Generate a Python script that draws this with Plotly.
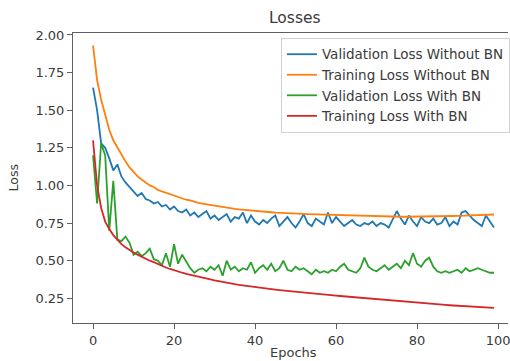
import plotly.graph_objects as go

epochs = list(range(100))

val_no_bn = [1.65, 1.50, 1.28, 1.25, 1.18, 1.10, 1.14, 1.06, 1.02, 0.99,
             0.96, 0.93, 0.95, 0.91, 0.90, 0.88, 0.89, 0.86, 0.87, 0.84,
             0.86, 0.83, 0.82, 0.84, 0.80, 0.82, 0.79, 0.81, 0.83, 0.78,
             0.80, 0.77, 0.79, 0.81, 0.76, 0.79, 0.78, 0.82, 0.75, 0.80,
             0.76, 0.74, 0.77, 0.75, 0.78, 0.80, 0.73, 0.76, 0.79, 0.75,
             0.72, 0.76, 0.81, 0.75, 0.73, 0.78, 0.76, 0.74, 0.82, 0.75,
             0.79, 0.76, 0.73, 0.75, 0.77, 0.74, 0.73, 0.75, 0.74, 0.76,
             0.73, 0.75, 0.74, 0.72, 0.77, 0.83, 0.78, 0.74, 0.80, 0.76,
             0.73, 0.79, 0.76, 0.75, 0.78, 0.74, 0.75, 0.79, 0.73, 0.76,
             0.74, 0.82, 0.83, 0.80, 0.77, 0.75, 0.73, 0.80, 0.76, 0.72]

train_no_bn = [1.93, 1.70, 1.57, 1.46, 1.37, 1.30, 1.25, 1.20, 1.16, 1.12,
               1.09, 1.06, 1.04, 1.02, 1.00, 0.99, 0.97, 0.96, 0.95, 0.94,
               0.93, 0.92, 0.91, 0.905, 0.90, 0.89, 0.885, 0.88, 0.875, 0.87,
               0.865, 0.86, 0.855, 0.85, 0.847, 0.844, 0.841, 0.838, 0.835, 0.832,
               0.83, 0.828, 0.826, 0.824, 0.822, 0.82, 0.818, 0.816, 0.815, 0.814,
               0.813, 0.812, 0.811, 0.81, 0.809, 0.808, 0.807, 0.806, 0.805, 0.804,
               0.803, 0.802, 0.801, 0.80, 0.80, 0.799, 0.798, 0.797, 0.796, 0.795,
               0.795, 0.794, 0.794, 0.793, 0.793, 0.793, 0.792, 0.792, 0.792, 0.792,
               0.792, 0.792, 0.793, 0.793, 0.794, 0.794, 0.795, 0.795, 0.796, 0.797,
               0.798, 0.799, 0.80, 0.801, 0.802, 0.803, 0.804, 0.805, 0.806, 0.807]

val_bn = [1.20, 0.88, 1.28, 1.20, 0.70, 1.03, 0.64, 0.63, 0.66, 0.62,
          0.54, 0.56, 0.53, 0.55, 0.58, 0.51, 0.50, 0.47, 0.55, 0.46,
          0.61, 0.48, 0.54, 0.49, 0.45, 0.42, 0.44, 0.45, 0.43, 0.46,
          0.44, 0.47, 0.40, 0.50, 0.44, 0.46, 0.43, 0.45, 0.44, 0.49,
          0.42, 0.45, 0.47, 0.44, 0.48, 0.43, 0.45, 0.50, 0.44, 0.43,
          0.46, 0.44, 0.45, 0.43, 0.41, 0.44, 0.42, 0.43, 0.42, 0.44,
          0.43, 0.46, 0.48, 0.44, 0.43, 0.42, 0.45, 0.52, 0.46, 0.44,
          0.43, 0.45, 0.47, 0.44, 0.46, 0.48, 0.45, 0.50, 0.47, 0.55,
          0.48, 0.46, 0.50, 0.52, 0.46, 0.43, 0.42, 0.43, 0.42, 0.43,
          0.44, 0.42, 0.45, 0.43, 0.44, 0.45, 0.44, 0.43, 0.42, 0.42]

train_bn = [1.30, 1.00, 0.85, 0.76, 0.71, 0.67, 0.64, 0.61, 0.59, 0.57,
            0.555, 0.54, 0.525, 0.51, 0.50, 0.49, 0.477, 0.466, 0.455, 0.445,
            0.435, 0.428, 0.42, 0.413, 0.406, 0.40, 0.394, 0.388, 0.382, 0.376,
            0.37, 0.364, 0.359, 0.354, 0.349, 0.344, 0.34, 0.336, 0.332, 0.328,
            0.324, 0.32, 0.317, 0.314, 0.311, 0.308, 0.305, 0.302, 0.299, 0.296,
            0.293, 0.29, 0.288, 0.285, 0.283, 0.28, 0.278, 0.275, 0.273, 0.27,
            0.268, 0.2655, 0.263, 0.2605, 0.258, 0.2555, 0.253, 0.2505, 0.248, 0.2455,
            0.243, 0.2405, 0.238, 0.236, 0.233, 0.231, 0.229, 0.226, 0.224, 0.222,
            0.22, 0.218, 0.216, 0.214, 0.212, 0.21, 0.208, 0.206, 0.204, 0.202,
            0.20, 0.198, 0.196, 0.194, 0.193, 0.191, 0.19, 0.188, 0.187, 0.186]

series = [
    ("Validation Loss Without BN", val_no_bn, "#1f77b4"),
    ("Training Loss Without BN", train_no_bn, "#ff7f0e"),
    ("Validation Loss With BN", val_bn, "#2ca02c"),
    ("Training Loss With BN", train_bn, "#d62728"),
]

x_ticks = [0, 20, 40, 60, 80, 100]
y_ticks = [0.25, 0.50, 0.75, 1.00, 1.25, 1.50, 1.75, 2.00]

TXT = "#3a3a3a"
fig = go.Figure()
for name, vals, color in series:
    fig.add_trace(go.Scatter(x=epochs, y=vals, mode="lines", name=name,
                             line=dict(color=color, width=1.8)))

axis_common = dict(showline=True, linecolor="#606060", linewidth=1,
                   ticks="outside", ticklen=5, tickcolor="#606060", tickwidth=1,
                   showgrid=False, zeroline=False, ticklabeloverflow="allow",
                   tickfont=dict(family="DejaVu Sans", size=13, color=TXT))

fig.update_layout(
    width=510, height=361,
    margin=dict(l=73, r=0, t=33, b=38),
    paper_bgcolor="white", plot_bgcolor="white",
    font=dict(family="DejaVu Sans", color=TXT),
    xaxis=dict(range=[-4.95, 102.46], tickvals=x_ticks, mirror=True, **axis_common),
    yaxis=dict(range=[0.086, 2.013], tickvals=y_ticks, tickformat=".2f", mirror=False,
               **axis_common),
    showlegend=True,
    legend=dict(x=0.478, y=0.983, xanchor="left", yanchor="top",
                bgcolor="rgba(255,255,255,0.8)", bordercolor="#d0d0d0", borderwidth=1,
                font=dict(family="DejaVu Sans", size=13.5, color=TXT),
                tracegroupgap=0),
    annotations=[
        dict(text="Losses", x=0.51, y=1.052, xref="paper", yref="paper",
             showarrow=False, xanchor="center", yanchor="middle",
             font=dict(family="DejaVu Sans", size=15.5, color=TXT)),
        dict(text="Loss", x=-0.137, y=0.5, xref="paper", yref="paper", textangle=-90,
             showarrow=False, xanchor="center", yanchor="middle",
             font=dict(family="DejaVu Sans", size=12.5, color=TXT)),
        dict(text="Epochs", x=0.508, y=-0.1, xref="paper", yref="paper",
             showarrow=False, xanchor="center", yanchor="middle",
             font=dict(family="DejaVu Sans", size=13, color=TXT)),
    ],
)

fig.write_html("out.html", config={"displayModeBar": False},
               post_script="document.body.style.margin='0';document.body.style.overflow='hidden';")
